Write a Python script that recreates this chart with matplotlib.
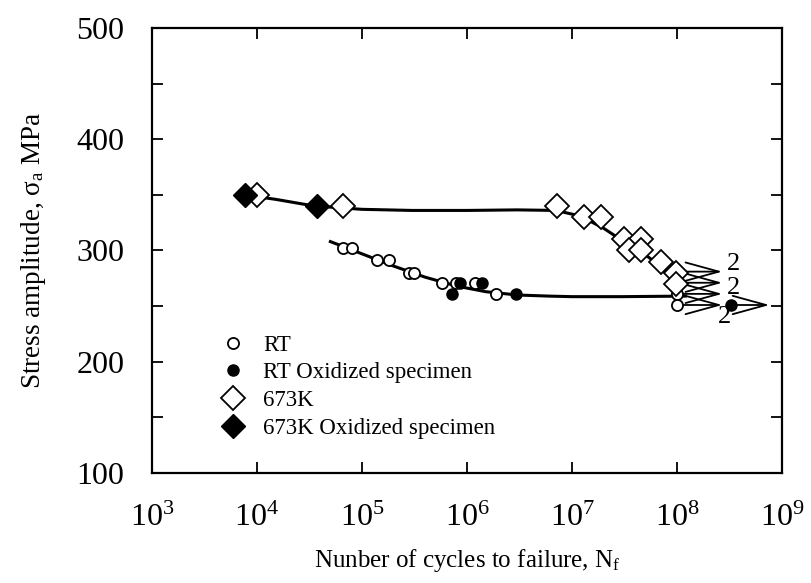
import numpy as np
import matplotlib
matplotlib.use("Agg")
from matplotlib import pyplot as plt
from matplotlib.ticker import FixedLocator, NullFormatter

plt.rcParams['font.family'] = ['Liberation Serif', 'DejaVu Serif']
plt.rcParams['mathtext.fontset'] = 'custom'
plt.rcParams['mathtext.rm'] = 'Liberation Serif'
plt.rcParams['mathtext.it'] = 'Liberation Serif'

# RT, open circles
rt_n = [6.6e4, 8.0e4, 1.4e5, 1.8e5, 2.8e5, 3.1e5, 5.8e5, 7.8e5, 1.2e6, 1.9e6, 1.0e8, 1.0e8]
rt_s = [302, 302, 291, 291, 280, 280, 271, 271, 271, 261, 261, 251]
# RT oxidized, filled circles
rto_n = [7.2e5, 8.6e5, 1.4e6, 2.9e6, 3.3e8]
rto_s = [261, 271, 271, 261, 251]
# 673K, open diamonds
hk_n = [1.0e4, 6.6e4, 7.2e6, 1.3e7, 1.9e7, 3.1e7, 4.5e7, 3.5e7, 4.5e7, 7.0e7, 9.8e7, 9.8e7]
hk_s = [350, 340, 340, 330, 330, 310, 310, 300, 300, 290, 280, 270]
# 673K oxidized, filled diamonds
hko_n = [7.7e3, 3.7e4]
hko_s = [350, 340]

# fitted curves
fit_hk_n = [7.5e3, 1.5e4, 3.5e4, 1e5, 3e5, 1e6, 3e6, 7e6, 1.2e7, 2e7, 3e7, 5e7, 7e7, 1e8]
fit_hk_s = [350, 346, 340, 337, 336, 336, 336.5, 336, 331, 320, 309, 296, 286, 272]
fit_rt_n = [5e4, 1e5, 2e5, 4e5, 8e5, 1.5e6, 3e6, 6e6, 1e7, 3e7, 1.2e8]
fit_rt_s = [308, 297, 286, 276, 268, 263, 260, 259, 258.5, 258.5, 259]

# run-outs (start N, stress, end N)
run_n = [1.0e8, 1.0e8, 1.0e8, 1.0e8, 3.3e8]
run_s = [281, 271, 261, 251, 251]
run_end = [2.7e8, 2.7e8, 2.7e8, 2.7e8, 7.6e8]
count_n = [3.0e8, 3.0e8, 2.45e8]
count_s = [288, 266, 240]

fig = plt.figure(figsize=(8.11, 5.83), dpi=100)
ax = fig.add_axes([0.1874, 0.1887, 0.7768, 0.7633])

ax.plot(fit_hk_n, fit_hk_s, color='black', lw=2.2, zorder=2)
ax.plot(fit_rt_n, fit_rt_s, color='black', lw=2.2, zorder=2)

for x0, y0, x1 in zip(run_n, run_s, run_end):
    ax.annotate('', xy=(x1, y0), xytext=(x0, y0),
                arrowprops=dict(arrowstyle='->,head_length=1.2,head_width=0.33',
                                color='black', lw=1.3, mutation_scale=20,
                                shrinkA=0, shrinkB=0), zorder=1)
for x, y in zip(count_n, count_s):
    ax.text(x, y, '2', fontsize=19, ha='left', va='center')

ax.plot(rt_n, rt_s, 'o', mfc='white', mec='black', mew=1.3, ms=8, ls='none',
        label='RT', zorder=3)
ax.plot(rto_n, rto_s, 'o', mfc='black', mec='black', ms=8, ls='none',
        label='RT Oxidized specimen', zorder=4)
ax.plot(hk_n, hk_s, 'D', mfc='white', mec='black', mew=1.3, ms=12, ls='none',
        label='673K', zorder=3)
ax.plot(hko_n, hko_s, 'D', mfc='black', mec='black', ms=12, ls='none',
        label='673K Oxidized specimen', zorder=4)

ax.set_xscale('log')
ax.set_xlim(1e3, 1e9)
ax.set_ylim(100, 500)
ax.xaxis.set_major_locator(FixedLocator([10.0 ** k for k in range(3, 10)]))
ax.xaxis.set_minor_locator(FixedLocator([]))
ax.xaxis.set_minor_formatter(NullFormatter())
ax.set_xticklabels(['$10^{%d}$' % k for k in range(3, 10)])
ax.yaxis.set_major_locator(FixedLocator([100, 200, 300, 400, 500]))
ax.yaxis.set_minor_locator(FixedLocator([150, 250, 350, 450]))

ax.tick_params(which='both', direction='in', top=True, right=True,
               length=8, width=1.3, labelsize=23)
ax.tick_params(axis='x', pad=22)
ax.tick_params(axis='y', pad=20)
for sp in ax.spines.values():
    sp.set_linewidth(1.6)

ax.set_xlabel('Nunber of cycles to failure, N$_\\mathrm{f}$', fontsize=18, labelpad=10)
ax.set_ylabel('Stress amplitude, $\\sigma_\\mathrm{a}$ MPa', fontsize=19.5, labelpad=20)

ax.legend(loc='lower left', bbox_to_anchor=(0.0925, 0.05), frameon=False,
          fontsize=16.5, handletextpad=0.8, labelspacing=0.3, borderpad=0,
          handlelength=1.0, markerscale=1.0)

fig.savefig('out.png', dpi=100)
